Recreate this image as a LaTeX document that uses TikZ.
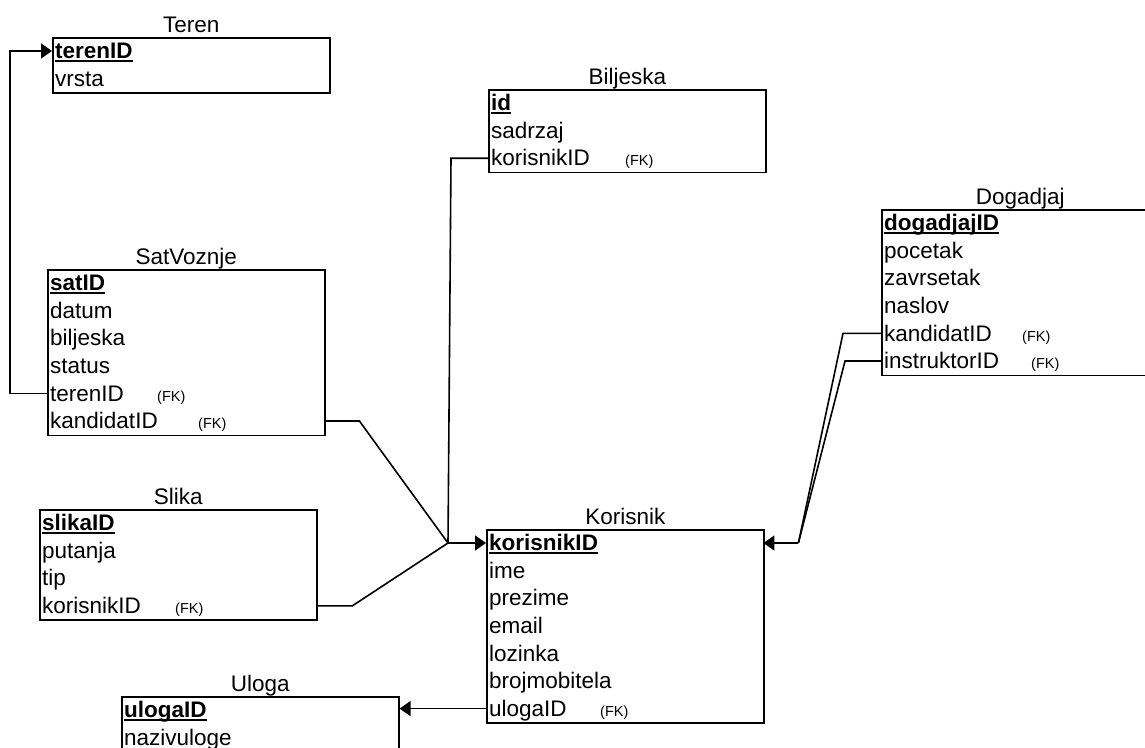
\documentclass[tikz,border=0pt]{standalone}
\usepackage{fontspec}
\setmainfont{Liberation Sans}
\usetikzlibrary{arrows.meta, positioning, calc}

\newcommand{\fldfont}{\fontsize{22.5}{26}\selectfont}
\newcommand{\fkfont}{\fontsize{14.5}{17}\selectfont}
% key field: bold, thick underline
\newcommand{\keyfld}[1]{\setbox0\hbox{\bfseries #1}\rlap{\rule[-3pt]{\wd0}{1.7pt}}\box0}
% foreign key field: name in a box of fixed width, then (FK)
\newcommand{\fkfld}[2]{\makebox[#1pt][l]{#2}{\fkfont(FK)}}

\tikzset{
  tbl/.style={draw, line width=1.6pt, anchor=north west, inner sep=0pt},
  fld/.style={anchor=north west, inner xsep=3pt, inner ysep=0pt, align=left,
    minimum height=27.6pt, text height=17pt, text depth=1.6pt, font=\fldfont},
  ttl/.style={anchor=base, inner sep=0pt, font=\fldfont},
  rel/.style={line width=1.6pt},
  relarrow/.style={rel, -{Triangle[length=11pt, width=15pt]}},
}

% #1 name, #2 title, #3 x, #4 y, #5 width, #6 number of rows, #7 fields
\newcommand{\ertable}[7]{%
  \pgfmathsetmacro\tblw{#5-6}
  \foreach \f [count=\i] in {#7}
    \node[fld, text width=\tblw pt] (#1-\i) at (#3,{#4+27.6*(\i-1)}) {\f};
  \node[tbl, minimum width=#5pt, minimum height=#6*27.6pt] (#1) at (#3,#4) {};
  \node[ttl] (#1-title) at ([yshift=4.5pt]#1.north) {#2};
}

\begin{document}
\begin{tikzpicture}[x=1pt, y=-1pt]
  \path[use as bounding box, clip] (0,0) rectangle (1145,747);

  % tables
  \ertable{teren}{Teren}{52}{37}{277}{2}{\keyfld{terenID}, vrsta}
  \ertable{biljeska}{Biljeska}{488}{89}{277}{3}{\keyfld{id}, sadrzaj, \fkfld{134}{korisnikID}}
  \ertable{dogadjaj}{Dogadjaj}{881}{209}{277}{6}{\keyfld{dogadjajID}, pocetak, zavrsetak, naslov,
    \fkfld{138}{kandidatID}, \fkfld{147}{instruktorID}}
  \ertable{satvoznje}{SatVoznje}{47}{269}{277}{6}{\keyfld{satID}, datum, biljeska, status,
    \fkfld{107}{terenID}, \fkfld{148}{kandidatID}}
  \ertable{slika}{Slika}{39}{509}{277}{4}{\keyfld{slikaID}, putanja, tip, \fkfld{133}{korisnikID}}
  \ertable{korisnik}{Korisnik}{486}{529}{277}{7}{\keyfld{korisnikID}, ime, prezime, email, lozinka,
    brojmobitela, \fkfld{111}{ulogaID}}
  \ertable{uloga}{Uloga}{121}{696}{277}{2}{\keyfld{ulogaID}, nazivuloge}

  % meeting points of the foreign keys
  \coordinate (hubl) at ($(korisnik-1.west)+(-38,0)$);
  \coordinate (hubr) at ($(korisnik-1.east)+(35,0)$);

  % relations
  \draw[relarrow] (satvoznje-5.west) -- ++(-37,0) |- (teren-1.west);
  \draw[rel] (biljeska-3.west) -- ++(-37,0) -- (hubl);
  \draw[rel] (satvoznje-6.east) -- ++(35,0) -- (hubl);
  \draw[rel] (slika-4.east) -- ++(36,0) -- (hubl);
  \draw[relarrow] (hubl) -- (korisnik-1.west);
  \draw[rel] (dogadjaj-5.west) -- ++(-38,0) -- (hubr);
  \draw[rel] (dogadjaj-6.west) -- ++(-36,0) -- (hubr);
  \draw[relarrow] (hubr) -- (korisnik-1.east);
  \draw[relarrow] (korisnik-7.west) -- (uloga.east |- korisnik-7.west);
\end{tikzpicture}
\end{document}
